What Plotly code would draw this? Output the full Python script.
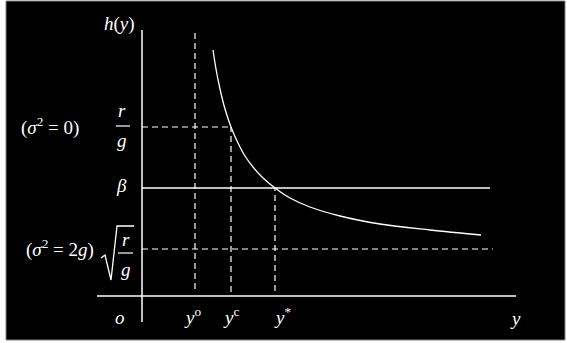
import plotly.graph_objects as go

# ---- data ----
curve_x = [0.71, 0.74, 0.78, 0.83, 0.89, 0.96, 1.03, 1.11, 1.20, 1.33,
           1.48, 1.68, 1.98, 2.38, 2.88, 3.39]
curve_y = [2.46, 2.27, 2.07, 1.87, 1.69, 1.53, 1.40, 1.29, 1.19, 1.08,
           0.98, 0.89, 0.80, 0.72, 0.66, 0.61]

y_o = 0.53      # y^o
y_c = 0.89      # y^c
y_star = 1.33   # y*

r_over_g = 1.69        # r/g   (sigma^2 = 0)
beta = 1.08            # beta
sqrt_r_over_g = 0.47   # sqrt(r/g) (sigma^2 = 2g)

x_axis_range = [-0.45, 3.74]
y_axis_range = [-0.26, 2.66]
beta_end = 3.48
sqrt_end = 3.51

WHITE = "white"
DASH = "6px,4px"
FONT = "Liberation Serif, DejaVu Serif, serif"

fig = go.Figure()

def line(xs, ys, dash=None, width=1.5, shape="linear"):
    fig.add_trace(go.Scatter(x=xs, y=ys, mode="lines",
                             line=dict(color=WHITE, width=width, dash=dash, shape=shape),
                             hoverinfo="skip", showlegend=False))

# axes
line(x_axis_range, [0, 0])
line([0, 0], y_axis_range)
# beta level
line([0, beta_end], [beta, beta])
# dashed guides
line([0, y_c], [r_over_g, r_over_g], dash=DASH, width=1.2)
line([0, sqrt_end], [sqrt_r_over_g, sqrt_r_over_g], dash=DASH, width=1.2)
line([y_o, y_o], [0.07, 2.67], dash=DASH, width=1.2)
line([y_c, y_c], [0.04, r_over_g], dash=DASH, width=1.2)
line([y_star, y_star], [0.05, beta], dash=DASH, width=1.2)
# curve h(y)
line(curve_x, curve_y, width=1.3, shape="spline")

def label(x, y, text, size=19):
    fig.add_annotation(x=x, y=y, xref="x", yref="y", text=text, showarrow=False,
                       font=dict(family=FONT, size=size, color=WHITE),
                       xanchor="center", yanchor="middle")

label(-0.23, 2.72, "<i>h</i>(<i>y</i>)")
label(-0.92, 1.70, "(<i>σ</i><sup>2</sup> = 0)")
label(-0.20, 1.86, "<i>r</i>")
label(-0.20, 1.56, "<i>g</i>")
label(-0.21, 1.11, "<i>β</i>")
label(-0.82, 0.48, "(<i>σ</i><sup>2</sup> = 2<i>g</i>)")
label(-0.165, 0.57, "<i>r</i>")
label(-0.165, 0.27, "<i>g</i>")
label(-0.22, -0.21, "<i>o</i>")
label(0.50, -0.20, "<i>y</i><sup>o</sup>")
label(0.89, -0.20, "<i>y</i><sup>c</sup>")
label(1.40, -0.20, "<i>y</i><sup>*</sup>")
label(3.73, -0.22, "<i>y</i>")

# fraction bars
fig.add_shape(type="line", xref="x", yref="y", x0=-0.26, x1=-0.12, y0=1.70, y1=1.70,
              line=dict(color=WHITE, width=1.2))
fig.add_shape(type="line", xref="x", yref="y", x0=-0.24, x1=-0.09, y0=0.43, y1=0.43,
              line=dict(color=WHITE, width=1.2))
# radical sign for sqrt(r/g)
fig.add_shape(type="path", xref="x", yref="y",
              path="M -0.41 0.38 L -0.37 0.41 L -0.31 0.16 L -0.25 0.70 L -0.08 0.70",
              line=dict(color=WHITE, width=1.3))

# frame border
fig.add_shape(type="rect", xref="paper", yref="paper", x0=0, x1=1, y0=0, y1=1,
              line=dict(color="#808080", width=1))

fig.update_layout(
    width=567, height=343,
    margin=dict(l=6, r=2, t=1, b=3),
    paper_bgcolor="white", plot_bgcolor="black",
    xaxis=dict(range=[-1.36, 4.23], visible=False, fixedrange=True),
    yaxis=dict(range=[-0.44, 2.95], visible=False, fixedrange=True),
    showlegend=False,
)

fig.write_html("out.html")
